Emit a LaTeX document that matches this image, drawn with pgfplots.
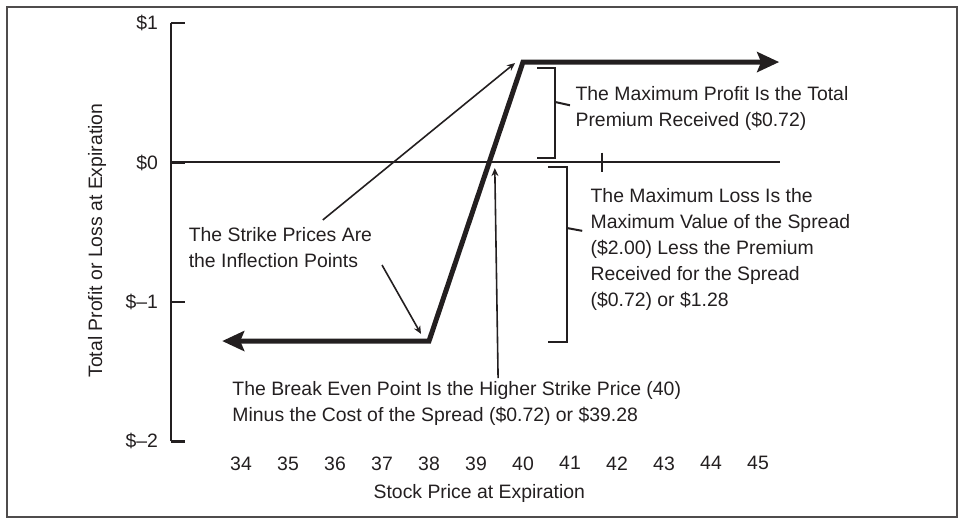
\documentclass[border=0pt]{standalone}
\usepackage{fontspec}
\setmainfont{Liberation Sans}
\usepackage{pgfplots}
\pgfplotsset{compat=1.18}
\usetikzlibrary{arrows.meta}
\definecolor{ink}{RGB}{35,31,32}
\newcommand\lbl{\fontsize{9.7}{13}\selectfont}

\begin{document}
\begin{tikzpicture}
\begin{axis}[
  x=23.5pt, y=69.75pt,
  xmin=32.51, xmax=45.5,
  ymin=-2, ymax=1,
  enlargelimits=false,
  clip=false,
  axis lines*=left,
  x axis line style={draw=none},
  y axis line style={ink, line width=1.3pt},
  xtick={34,...,45},
  xtick style={draw=none},
  ytick={-2,-1,0,1},
  yticklabels={\$–2,\$–1,\$0,\$1},
  ytick style={ink, line width=1.3pt},
  tick align=inside,
  major tick length=7pt,
  /pgf/number format/assume math mode=true,
  tick label style={font=\lbl, text=ink},
  xticklabel style={yshift=-4pt},
  yticklabel style={xshift=-3pt},
  xlabel={Stock Price at Expiration},
  ylabel={Total Profit or Loss at Expiration},
  label style={font=\lbl, text=ink},
  xlabel style={at={(rel axis cs:0.505,-0.125)}, anchor=center},
  ylabel style={at={(rel axis cs:-0.121,0.48)}, anchor=center},
]
% picture size and outer frame
\path (axis cs:28.872,1.1649) rectangle (axis cs:49.383,-2.5986);
\draw[ink!80, line width=0.8pt] (axis cs:29.021,1.1147) rectangle (axis cs:49.234,-2.5412);

% zero line
\addplot[ink, line width=1pt] coordinates {(32.51,0) (45.47,0)};
\draw[ink, line width=1pt] (axis cs:41.68,0.07) -- (axis cs:41.68,-0.07);

% payoff of the spread
\addplot[ink, line width=2.5pt,
  {Stealth[length=11pt,width=10pt,inset=2pt]}-{Stealth[length=11pt,width=10pt,inset=2pt]}]
  coordinates {(33.6,-1.28) (38,-1.28) (40,0.72) (45.45,0.72)};

% brackets
\draw[ink, line width=1pt] (axis cs:40.30,0.677) -- (axis cs:40.68,0.677)
  -- (axis cs:40.68,0.032) -- (axis cs:40.30,0.032);
\draw[ink, line width=1pt] (axis cs:40.68,0.434) -- (axis cs:41.0,0.41);
\draw[ink, line width=1pt] (axis cs:40.53,-0.032) -- (axis cs:40.94,-0.032)
  -- (axis cs:40.94,-1.287) -- (axis cs:40.53,-1.287);
\draw[ink, line width=1pt] (axis cs:40.94,-0.47) -- (axis cs:41.26,-0.49);

% pointers
\draw[ink, line width=0.8pt, -{Stealth[length=4pt,width=3.5pt]}]
  (axis cs:35.74,-0.412) -- (axis cs:39.83,0.713);
\draw[ink, line width=0.8pt, -{Stealth[length=4pt,width=3.5pt]}]
  (axis cs:37.0,-0.735) -- (axis cs:37.83,-1.229);
\draw[ink, line width=0.8pt, -{Stealth[length=4pt,width=3.5pt]}]
  (axis cs:39.47,-1.545) -- (axis cs:39.40,-0.04);

% notes
\node[anchor=west, align=left, font=\lbl, text=ink, inner sep=0] at (axis cs:41.11,0.387)
  {The Maximum Profit Is the Total\\Premium Received (\$0.72)};
\node[anchor=west, align=left, font=\lbl, text=ink, inner sep=0] at (axis cs:41.43,-0.627)
  {The Maximum Loss Is the\\Maximum Value of the Spread\\(\$2.00) Less the Premium\\Received for the Spread\\(\$0.72) or \$1.28};
\node[anchor=west, align=left, font=\lbl, text=ink, inner sep=0] at (axis cs:32.88,-0.613)
  {The Strike Prices Are\\the Inflection Points};
\node[anchor=west, align=left, font=\lbl, text=ink, inner sep=0] at (axis cs:33.81,-1.724)
  {The Break Even Point Is the Higher Strike Price (40)\\Minus the Cost of the Spread (\$0.72) or \$39.28};
\end{axis}
\end{tikzpicture}
\end{document}
